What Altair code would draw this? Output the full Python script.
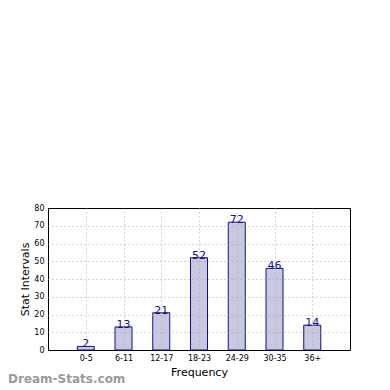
import altair as alt
import pandas as pd

categories = ["0-5", "6-11", "12-17", "18-23", "24-29", "30-35", "36+"]
counts = [2, 13, 21, 52, 72, 46, 14]
positions = [1, 2, 3, 4, 5, 6, 7]
y_ticks = [0, 10, 20, 30, 40, 50, 60, 70, 80]

df = pd.DataFrame({"cat": categories, "count": counts, "pos": positions})

label_expr = "[" + ",".join("'" + c + "'" for c in categories) + "][datum.value - 1]"

FONT = "DejaVu Sans"
NAVY = "#10108a"

x_axis = alt.Axis(
    values=positions, labelExpr=label_expr, title="Frequency",
    grid=True, gridColor="#a8a8a8", gridDash=[1, 3], gridWidth=1,
    ticks=False, domain=False, labelFontSize=8, labelColor="#000",
    labelFont=FONT, titleFont=FONT, titleFontSize=11, titleFontWeight="normal",
    titleColor="#000", labelPadding=4, titlePadding=4, zindex=1,
    labelOverlap=False,
)
y_axis = alt.Axis(
    values=y_ticks, title="Stat Intervals", tickCount=9,
    grid=True,
    gridColor=alt.condition("datum.value == 80 || datum.value == 0",
                            alt.value("#000000"), alt.value("#a8a8a8")),
    gridDash=[1, 3], gridWidth=1,
    ticks=False, domain=False, labelFontSize=8, labelColor="#000",
    labelFont=FONT, titleFont=FONT, titleFontSize=11, titleFontWeight="normal",
    titleColor="#000", labelPadding=4, titlePadding=3, zindex=1,
    labelOverlap=False, labelBound=False, labelFlush=False,
)

x = alt.X("pos:Q", scale=alt.Scale(domain=[0, 8], nice=False, zero=False, padding=0), axis=x_axis)
y = alt.Y("count:Q", scale=alt.Scale(domain=[0, 80], nice=False, padding=0), axis=y_axis)

bars = alt.Chart(df).mark_bar(
    size=17, fill="#c8c8e0", stroke=NAVY, strokeWidth=1
).encode(x=x, y=y)

labels = alt.Chart(df).mark_text(
    baseline="bottom", dy=3, fontSize=11, font=FONT, color=NAVY
).encode(x=x, y=y, text="count:Q")

wm_df = pd.DataFrame({"t": ["Dream-Stats.com"]})
watermark = alt.Chart(wm_df).mark_text(
    align="left", baseline="middle", fontSize=12, font=FONT,
    color="#9a9a9a", fontWeight="bold"
).encode(x=alt.value(-40), y=alt.value(171), text="t:N")

chart = alt.layer(bars, labels, watermark).properties(
    width=302, height=142, background="white",
    autosize=alt.AutoSizeParams(type="none"),
    padding={"left": 40, "top": 200, "right": 30, "bottom": 40},
).configure_view(stroke="#000", strokeWidth=1)

chart.save("out.html", embed_options={"renderer": "svg", "actions": False})
